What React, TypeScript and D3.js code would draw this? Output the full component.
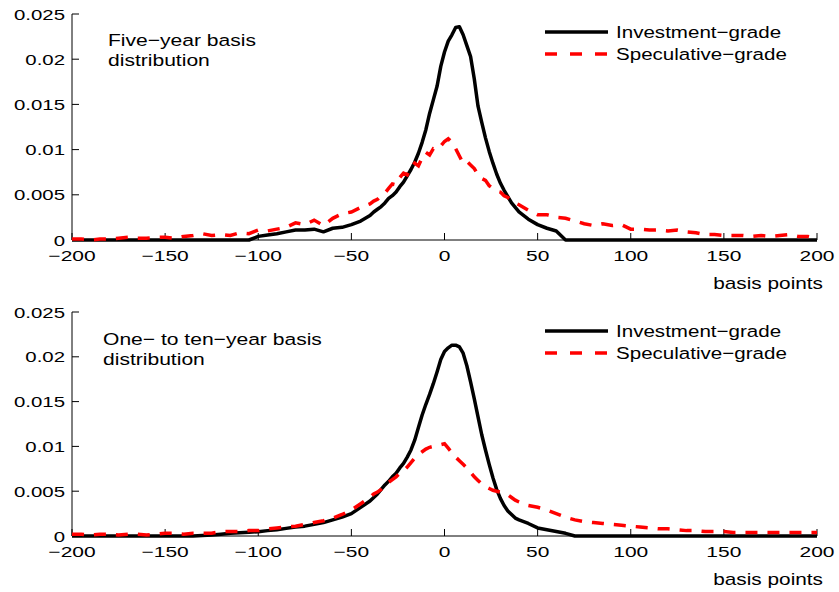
import React from "react";
import { scaleLinear, line, format } from "d3";

// basis-point grid shared by all four curves
const bp = [
  -200, -195, -190, -185, -180, -175, -170, -165, -160, -155,
  -150, -145, -140, -135, -130, -125, -120, -115, -110, -105,
  -100, -95, -90, -85, -80, -75, -70, -65, -60, -55,
  -50, -45,
  -40, -38, -36, -34, -32, -30, -28, -26, -24, -22,
  -20, -18, -16, -14, -12, -10, -8, -6, -4, -2,
  0,
  2, 4, 6, 8, 10, 12, 14, 16, 18, 20,
  22, 24, 26, 28, 30, 32, 34, 36, 38, 40,
  45, 50, 55, 60, 65, 70, 75, 80, 85, 90,
  95, 100, 105, 110, 115, 120, 125, 130, 135, 140,
  145, 150, 155, 160, 165, 170, 175, 180, 185, 190,
  195, 200,
];

// five-year basis
const invGrade5 = [
  0, 0, 0, 0, 0, 0, 0, 0, 0, 0,
  0, 0, 0, 0, 0, 0, 0, 0, 0, 0,
  0.0004, 0.00055, 0.0007, 0.0009, 0.0011, 0.0011, 0.0012, 0.0009, 0.0013, 0.0014,
  0.0017, 0.0021,
  0.0027, 0.0031, 0.0034, 0.0037, 0.0041, 0.0046, 0.0049, 0.0053, 0.0059, 0.0064,
  0.0071, 0.0078, 0.0086, 0.0096, 0.0108, 0.0122, 0.014, 0.0155, 0.017, 0.0192,
  0.0208,
  0.022, 0.0227, 0.0235, 0.0236, 0.0227, 0.0215, 0.0203, 0.0178, 0.0148, 0.013,
  0.0113, 0.0098, 0.0085, 0.0073, 0.0063, 0.0055, 0.0048, 0.0041, 0.0036, 0.0031,
  0.0023, 0.0017, 0.0013, 0.001, 0, 0, 0, 0, 0, 0,
  0, 0, 0, 0, 0, 0, 0, 0, 0, 0,
  0, 0, 0, 0, 0, 0, 0, 0, 0, 0,
  0, 0,
];
const specGrade5 = [
  0.0001, 0.0001, 0, 0.0001, 0.0001, 0.0002, 0.0003, 0.0002, 0.0002, 0.0003,
  0.0003, 0.0002, 0.0004, 0.0005, 0.0007, 0.0005, 0.0006, 0.0005, 0.0008, 0.0007,
  0.0011, 0.001, 0.0012, 0.0014, 0.0019, 0.0017, 0.0022, 0.0016, 0.0024, 0.0029,
  0.0031, 0.0036,
  0.004, 0.0043, 0.0045, 0.0049, 0.0052, 0.0057, 0.0062, 0.0061, 0.0069, 0.0074,
  0.0072, 0.008, 0.0085, 0.0082, 0.0091, 0.0097, 0.0094, 0.0101, 0.01, 0.0104,
  0.0109,
  0.0112, 0.0108, 0.0101, 0.0093, 0.0085, 0.0087, 0.0083, 0.0079, 0.0072, 0.0068,
  0.0066, 0.006, 0.0057, 0.0054, 0.0053, 0.0049, 0.0047, 0.0044, 0.0041, 0.0039,
  0.0033, 0.0028, 0.0028, 0.0025, 0.0024, 0.0021, 0.0018, 0.0016, 0.0018, 0.0016,
  0.0017, 0.0012, 0.0012, 0.0011, 0.0011, 0.001, 0.0011, 0.0009, 0.0008, 0.0006,
  0.0006, 0.0005, 0.0005, 0.0005, 0.0004, 0.0005, 0.0004, 0.0005, 0.0006, 0.0004,
  0.0004, 0.0002,
];

// one- to ten-year basis
const invGrade10 = [
  0, 0, 0, 0, 0, 0, 0, 0, 0, 0,
  0, 0, 0, 0, 0.00005, 0.0001, 0.0002, 0.0003, 0.00037, 0.00042,
  0.00048, 0.0006, 0.0007, 0.00085, 0.001, 0.0011, 0.0013, 0.0015, 0.0018, 0.0021,
  0.0025, 0.0032,
  0.0039, 0.0043, 0.0047, 0.0052, 0.0057, 0.0061, 0.0066, 0.007, 0.0076, 0.0081,
  0.0088, 0.0096, 0.0107, 0.0121, 0.0135, 0.0147, 0.0158, 0.017, 0.0183, 0.0197,
  0.0206,
  0.021, 0.0213, 0.0213, 0.0211, 0.0204, 0.019, 0.0172, 0.0153, 0.0133, 0.0113,
  0.0096, 0.008, 0.0065, 0.0052, 0.0042, 0.0034, 0.0028, 0.0024, 0.002, 0.0018,
  0.0014, 0.0009, 0.0007, 0.0005, 0.0003, 0, 0, 0, 0, 0,
  0, 0, 0, 0, 0, 0, 0, 0, 0, 0,
  0, 0, 0, 0, 0, 0, 0, 0, 0, 0,
  0, 0,
];
const specGrade10 = [
  0.0002, 0.0002, 0.0001, 0.0002, 0.0002, 0.0001, 0.0002, 0.0002, 0.0001, 0.0002,
  0.0003, 0.0003, 0.0002, 0.0003, 0.0003, 0.0003, 0.0005, 0.0005, 0.0005, 0.0006,
  0.0006, 0.0008, 0.0009, 0.001, 0.0011, 0.0013, 0.0015, 0.0017, 0.002, 0.0024,
  0.0029, 0.0036,
  0.0043, 0.0047, 0.0049, 0.0052, 0.0056, 0.006, 0.0063, 0.0066, 0.007, 0.0073,
  0.0077, 0.0082, 0.0087, 0.0091, 0.0094, 0.0097, 0.0099, 0.01, 0.0101, 0.0102,
  0.0103,
  0.0098, 0.0093, 0.0088, 0.0084, 0.008, 0.0076, 0.0071, 0.0066, 0.0062, 0.0058,
  0.0055, 0.0053, 0.0051, 0.005, 0.0049, 0.0048, 0.0046, 0.0043, 0.004, 0.0038,
  0.0034, 0.0032, 0.0029, 0.0025, 0.0021, 0.0018, 0.0016, 0.0015, 0.0014, 0.0013,
  0.0012, 0.0011, 0.001, 0.0009, 0.0008, 0.0008, 0.0007, 0.0006, 0.0006, 0.0005,
  0.0005, 0.0005, 0.0004, 0.0004, 0.0004, 0.0004, 0.0004, 0.0004, 0.0004, 0.0004,
  0.0004, 0.0004,
];

const xTicks = [-200, -150, -100, -50, 0, 50, 100, 150, 200];
const yTicks = [0, 0.005, 0.01, 0.015, 0.02, 0.025];
const seriesNames = ["Investment\u2212grade", "Speculative\u2212grade"];

const FONT = "'Liberation Sans', Arial, Helvetica, sans-serif";
const RED = "#ff0000";
const DASH = "12,10";

const xLeft = 72;
const xRight = 817;
const fmtX = format("d");

const panels = [
  { top: 14, bottom: 240, inv: invGrade5, spec: specGrade5, label: ["Five\u2212year basis", "distribution"], labelX: 108, labelY: 46, legendY: 32 },
  { top: 312, bottom: 536, inv: invGrade10, spec: specGrade10, label: ["One\u2212 to ten\u2212year basis", "distribution"], labelX: 103, labelY: 345, legendY: 331 },
];

// text in the original is horizontally widened, so each label gets an x-stretch
const Txt = ({ x, y, anchor = "start", size = 16, stretch = 1.3, children }) => (
  <text
    transform={`translate(${x},${y}) scale(${stretch},1)`}
    textAnchor={anchor}
    fontFamily={FONT}
    fontSize={size}
    fill="#000"
  >
    {children}
  </text>
);

const Panel = ({ p }) => {
  const x = scaleLinear().domain([-200, 200]).range([xLeft, xRight]);
  const y = scaleLinear().domain([0, 0.025]).range([p.bottom, p.top]);
  const pts = (vals) => bp.map((b, i) => [b, vals[i]]).filter((d) => d[1] != null);
  const gen = line<number[]>()
    .x((d) => x(d[0]))
    .y((d) => y(d[1]));

  return (
    <g>
      {/* axes */}
      <line x1={xLeft} x2={xLeft} y1={p.top} y2={p.bottom} stroke="#000" strokeWidth={1} />
      <line x1={xLeft} x2={xRight} y1={p.bottom} y2={p.bottom} stroke="#000" strokeWidth={1} />
      {yTicks.map((t) => (
        <g key={t}>
          <line x1={xLeft} x2={xLeft + 7} y1={y(t)} y2={y(t)} stroke="#000" />
          <Txt x={65} y={y(t) + 5.5} anchor="end" size={15} stretch={1.36}>
            {String(t)}
          </Txt>
        </g>
      ))}
      {xTicks.map((t) => (
        <g key={t}>
          <line x1={x(t)} x2={x(t)} y1={p.bottom} y2={p.bottom - 7} stroke="#000" />
          <Txt x={x(t)} y={p.bottom + 21} anchor="middle" size={15} stretch={1.4}>
            {fmtX(t)}
          </Txt>
        </g>
      ))}
      <Txt x={823} y={p.bottom + 49} anchor="end" size={16} stretch={1.3}>
        basis points
      </Txt>

      {/* curves */}
      <path d={gen(pts(p.inv))} fill="none" stroke="#000" strokeWidth={3.5} strokeLinejoin="round" />
      <path d={gen(pts(p.spec))} fill="none" stroke={RED} strokeWidth={3.5} strokeDasharray={DASH} />

      {/* panel label */}
      <Txt x={p.labelX} y={p.labelY} size={17} stretch={1.24}>{p.label[0]}</Txt>
      <Txt x={p.labelX} y={p.labelY + 20} size={17} stretch={1.24}>{p.label[1]}</Txt>

      {/* legend */}
      <line x1={545} x2={608} y1={p.legendY} y2={p.legendY} stroke="#000" strokeWidth={3.5} />
      <Txt x={616} y={p.legendY + 6} size={17} stretch={1.21}>{seriesNames[0]}</Txt>
      <line x1={545} x2={608} y1={p.legendY + 22} y2={p.legendY + 22} stroke={RED} strokeWidth={3.5} strokeDasharray="12,13" />
      <Txt x={616} y={p.legendY + 28} size={17} stretch={1.21}>{seriesNames[1]}</Txt>
    </g>
  );
};

export default function App() {
  return (
    <svg
      width={839}
      height={592}
      style={{ position: "absolute", left: 0, top: 0, background: "#fff" }}
    >
      {panels.map((p, i) => (
        <Panel key={i} p={p} />
      ))}
    </svg>
  );
}
